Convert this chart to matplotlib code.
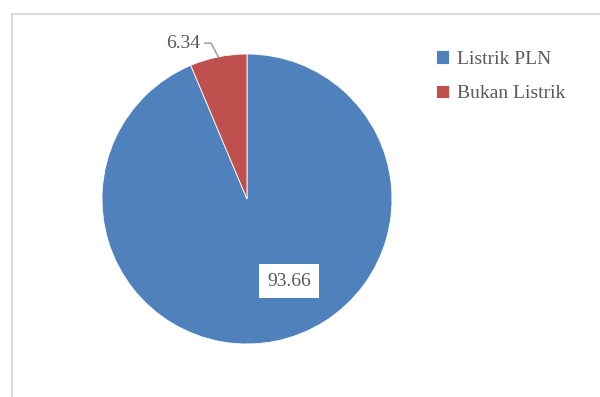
import numpy as np
import matplotlib.pyplot as plt
from matplotlib.patches import Rectangle

# data
labels = ["Listrik PLN", "Bukan Listrik"]
values = [93.66, 6.34]
colors = ["#4F81BD", "#C0504D"]

plt.rcParams['font.family'] = ['Liberation Serif', 'DejaVu Serif']
txt = "#595959"

fig = plt.figure(figsize=(6.0, 3.97), dpi=100)

# outer chart border (runs off the right and bottom edges)
fig.patches.append(Rectangle((11.5 / 600, -0.05), 1.1, 1 - 14 / 397 + 0.05,
                             transform=fig.transFigure, fill=False,
                             edgecolor="#D9D9D9", linewidth=1.5))

ax = fig.add_axes([102 / 600, 1 - 344 / 397, 290 / 600, 290 / 397])
wedges, _ = ax.pie(values, colors=colors, startangle=90, counterclock=False,
                   radius=1.0, wedgeprops=dict(edgecolor="white", linewidth=0.6))
ax.set_xlim(-1, 1)
ax.set_ylim(-1, 1)
ax.set_aspect("equal")
ax.axis("off")

# label for the big slice
ax.text(0.29, -0.566, f"{values[0]:.2f}", ha="center", va="center",
        fontsize=14, color=txt,
        bbox=dict(boxstyle="square,pad=0.42", facecolor="white", edgecolor="none"))

# label for the small slice with a leader line
mid = np.deg2rad(90 - (values[0] + values[1] / 2) * 3.6)
ex, ey = np.cos(mid), np.sin(mid)
ax.plot([ex, ex - 0.05, -0.29], [ey, 1.075, 1.075], color="#A6A6A6",
        linewidth=1.2, clip_on=False)
ax.text(-0.32, 1.075, f"{values[1]:.2f}", ha="right", va="center",
        fontsize=14, color=txt)

leg = fig.legend(wedges, labels, loc="upper left", bbox_to_anchor=(418 / 600, 1 - 33 / 397),
                 frameon=False, fontsize=14, labelcolor=txt, handlelength=0.7,
                 handleheight=0.7, handletextpad=0.4, labelspacing=0.85)

fig.savefig("out.png", dpi=100)
